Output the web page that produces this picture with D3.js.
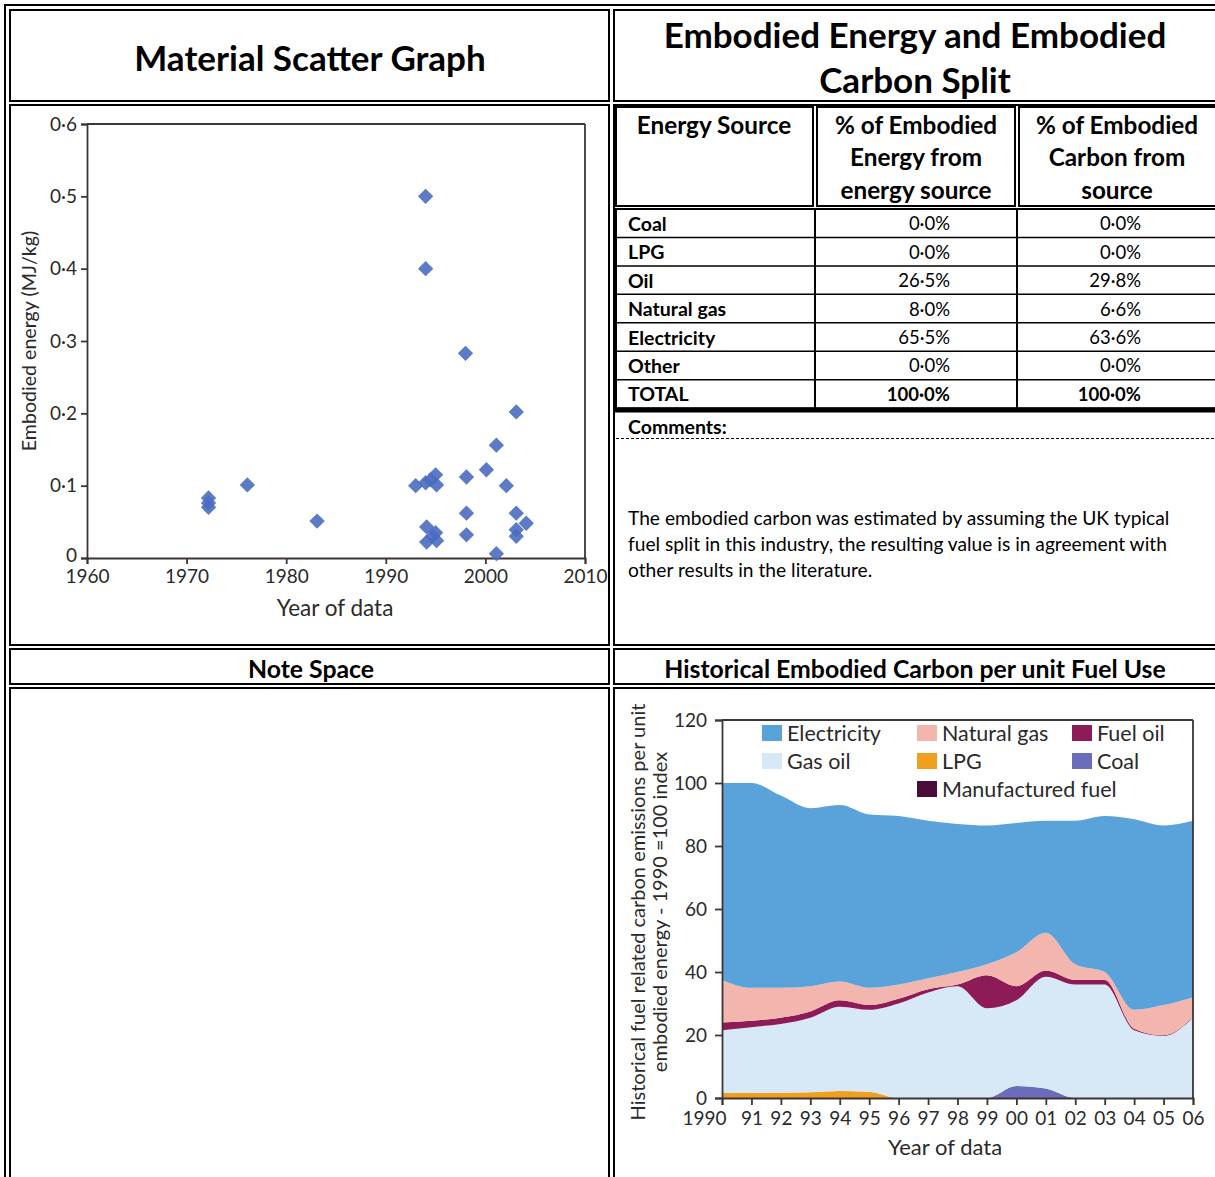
<!DOCTYPE html>
<html>
<head>
<meta charset="utf-8">
<script src="https://cdn.jsdelivr.net/npm/d3@7"></script>
<style>
  html, body { margin: 0; padding: 0; background: #fff; }
  svg { display: block; }
</style>
</head>
<body>
<svg id="page" width="1215" height="1177"></svg>
<script>
// ---------- Material scatter graph: year of data vs embodied energy (MJ/kg)
const dataYears = [1972.2, 1972.2, 1972.2, 1976.1, 1983.1,
  1993.0, 1994.0, 1994.5, 1995.0, 1995.1, 1994.0, 1994.0,
  1994.1, 1995.0, 1994.1, 1995.1, 1994.7,
  1998.0, 1998.1, 1998.1, 1998.1, 2000.1, 2001.1, 2001.1, 2002.1,
  2003.1, 2003.1, 2004.1, 2003.1, 2003.1];
const embodiedEnergy = [0.083, 0.070, 0.076, 0.101, 0.051,
  0.100, 0.104, 0.108, 0.115, 0.101, 0.500, 0.400,
  0.043, 0.035, 0.022, 0.024, 0.030,
  0.283, 0.112, 0.062, 0.032, 0.122, 0.156, 0.006, 0.100,
  0.202, 0.062, 0.048, 0.039, 0.030];
const scatterXTicks = [1960, 1970, 1980, 1990, 2000, 2010];
const scatterYTicks = [0, 0.1, 0.2, 0.3, 0.4, 0.5, 0.6];

// ---------- Embodied energy / carbon split table
const energySources = ["Coal", "LPG", "Oil", "Natural gas", "Electricity", "Other", "TOTAL"];
const energyShare = [0.0, 0.0, 26.5, 8.0, 65.5, 0.0, 100.0];
const carbonShare = [0.0, 0.0, 29.8, 6.6, 63.6, 0.0, 100.0];
const commentLines = [
  "The embodied carbon was estimated by assuming the UK typical",
  "fuel split in this industry, the resulting value is in agreement with",
  "other results in the literature."
];

// ---------- Historical embodied carbon per unit fuel use (1990 = 100 index)
const fuelYears = [1990, 1991, 1992, 1993, 1994, 1995, 1996, 1997, 1998,
  1999, 2000, 2001, 2002, 2003, 2004, 2005, 2006];
const coal = [0, 0, 0, 0, 0, 0, 0, 0, 0, 0, 3.8, 3.0, 0, 0, 0, 0, 0];
const lpg = [1.6, 1.6, 1.7, 1.8, 2.2, 2.0, 0, 0, 0, 0, 0, 0, 0, 0, 0, 0, 0];
const gasOil = [19.9, 20.9, 21.8, 23.7, 26.8, 26.0, 30.0, 33.5, 35.5,
  28.5, 27.2, 35.5, 36.0, 36.0, 21.5, 19.7, 25.5];
const fuelOil = [2.5, 2.0, 2.0, 2.0, 2.0, 1.5, 1.5, 1.0, 0.5,
  10.5, 4.5, 2.0, 1.5, 1.5, 0.5, 0.2, 0.1];
const manufacturedFuel = [0, 0, 0, 0, 0, 0, 0, 0, 0, 0, 0, 0, 0, 0, 0, 0, 0];
const naturalGas = [13.5, 10.5, 9.5, 8.0, 6.0, 5.5, 4.5, 3.5, 4.0,
  3.5, 10.8, 12.0, 5.0, 2.5, 6.0, 9.6, 6.4];
const electricity = [62.5, 65.0, 61.0, 56.5, 56.0, 55.0, 53.5, 50.0, 47.0,
  44.0, 41.0, 35.5, 45.5, 49.5, 60.5, 57.0, 56.0];
const fuelXTickLabels = ["1990", "91", "92", "93", "94", "95", "96", "97", "98",
  "99", "00", "01", "02", "03", "04", "05", "06"];
const fuelYTicks = [0, 20, 40, 60, 80, 100, 120];

// ---------- page
const svg = d3.select("#page");
const TABLE_FONT = "Lato, 'Open Sans', sans-serif";
const CHART_FONT = "Lato, 'Open Sans', sans-serif";
const dotFmt = v => d3.format(".1f")(v).replace(".", "\u00B7");

// cell borders (table with cell spacing gives double rules)
const RIGHT = 1240, BOTTOM = 1200;
function box(x0, y0, x1, y1, w = 2) {
  svg.append("rect")
    .attr("x", x0).attr("y", y0)
    .attr("width", x1 - x0).attr("height", y1 - y0)
    .attr("fill", "none").attr("stroke", "#000").attr("stroke-width", w);
}
function hline(x0, x1, y, w = 1.5, dash = null) {
  const l = svg.append("line").attr("x1", x0).attr("x2", x1).attr("y1", y).attr("y2", y)
    .attr("stroke", "#000").attr("stroke-width", w);
  if (dash) l.attr("stroke-dasharray", dash);
}
function vline(x, y0, y1, w = 1.5) {
  svg.append("line").attr("x1", x).attr("x2", x).attr("y1", y0).attr("y2", y1)
    .attr("stroke", "#000").attr("stroke-width", w);
}

box(5, 5, RIGHT, BOTTOM);            // table outline
box(10, 10, 609, 101);               // title left
box(614, 10, RIGHT, 101);            // title right
box(10, 105, 609, 645);              // scatter cell
box(614, 105, RIGHT, 645);           // split cell
box(10, 649, 609, 684);              // note header
box(614, 649, RIGHT, 684);           // historical header
box(10, 688, 609, BOTTOM);           // note space
box(614, 688, RIGHT, BOTTOM);        // historical chart cell

// headings
function heading(text, x, y, size) {
  svg.append("text").attr("x", x).attr("y", y)
    .attr("text-anchor", "middle").attr("dominant-baseline", "central")
    .attr("font-family", TABLE_FONT).attr("font-weight", 700)
    .attr("font-size", size).attr("fill", "#000").text(text);
}
heading("Material Scatter Graph", 310, 57, 35);
heading("Embodied Energy and Embodied", 915, 34, 35);
heading("Carbon Split", 915, 79, 35);
heading("Note Space", 311, 668, 24.8);
heading("Historical Embodied Carbon per unit Fuel Use", 915, 668, 24.8);

// ---------- split table
box(616, 107, 813, 206); box(817, 107, 1015, 206); box(1019, 107, RIGHT, 206);
const headerLines = [["Energy Source"], ["% of Embodied", "Energy from", "energy source"], ["% of Embodied", "Carbon from", "source"]];
const headerCx = [714, 916, 1117];
headerLines.forEach((lines, i) => {
  lines.forEach((t, j) => heading(t, headerCx[i], 124 + j * 32.5, 24.3));
});
// data rows
const rowTop = 209, rowH = 28.45;
const rowY = d3.scaleLinear().domain([0, energySources.length]).range([rowTop, rowTop + rowH * energySources.length]);
box(616, rowTop, RIGHT, rowY(energySources.length), 2);
d3.range(1, energySources.length).forEach(i => hline(616, RIGHT, rowY(i), 1.5));
vline(815, rowTop, rowY(energySources.length), 2);
vline(1017, rowTop, rowY(energySources.length), 2);
hline(614, RIGHT, rowY(energySources.length) + 2.5, 3.5);

const rows = svg.append("g").attr("font-family", TABLE_FONT).attr("fill", "#000");
energySources.forEach((name, i) => {
  const cy = rowY(i + 0.5);
  rows.append("text").attr("x", 628).attr("y", cy).attr("dominant-baseline", "central")
    .attr("font-size", 19.5).attr("font-weight", 700).text(name);
  const bold = name === "TOTAL" ? 700 : 400;
  rows.append("text").attr("x", 950).attr("y", cy).attr("dominant-baseline", "central")
    .attr("font-size", 18.5).attr("text-anchor", "end").attr("font-weight", bold)
    .text(dotFmt(energyShare[i]) + "%");
  rows.append("text").attr("x", 1141).attr("y", cy).attr("dominant-baseline", "central")
    .attr("font-size", 18.5).attr("text-anchor", "end").attr("font-weight", bold)
    .text(dotFmt(carbonShare[i]) + "%");
});
rows.append("text").attr("x", 628).attr("y", 426).attr("dominant-baseline", "central")
  .attr("font-size", 19.5).attr("font-weight", 700).text("Comments:");
hline(616, RIGHT, 438.5, 1, "3,2");
commentLines.forEach((t, i) => {
  rows.append("text").attr("x", 628).attr("y", 517 + i * 26).attr("dominant-baseline", "central")
    .attr("font-size", 19.2).attr("font-weight", 400).text(t);
});

// ---------- scatter chart
{
  const x = d3.scaleLinear().domain([1960, 2010]).range([87, 585]);
  const y = d3.scaleLinear().domain([0, 0.6]).range([558, 124]);
  const g = svg.append("g").attr("font-family", CHART_FONT);
  const axisColor = "#3d3535";

  g.append("line").attr("x1", x(1960)).attr("x2", x(2010)).attr("y1", y(0.6)).attr("y2", y(0.6))
    .attr("stroke", axisColor).attr("stroke-width", 1.8);
  g.append("line").attr("x1", x(2010)).attr("x2", x(2010)).attr("y1", y(0.6)).attr("y2", y(0))
    .attr("stroke", axisColor).attr("stroke-width", 1.8);

  const ya = g.append("g").attr("transform", `translate(${x(1960)},0)`)
    .call(d3.axisLeft(y).tickValues(scatterYTicks).tickSizeOuter(0).tickSize(6).tickPadding(4)
      .tickFormat(d => d === 0 ? "0" : dotFmt(d)));
  const xa = g.append("g").attr("transform", `translate(0,${y(0)})`)
    .call(d3.axisBottom(x).tickValues(scatterXTicks).tickSizeOuter(0).tickSize(6).tickPadding(6)
      .tickFormat(d3.format("d")));
  [ya, xa].forEach(a => {
    a.selectAll("path,line").attr("stroke", axisColor).attr("stroke-width", 1.8);
    a.selectAll("text").attr("font-size", 19).attr("fill", "#2a2a2a").attr("font-family", CHART_FONT);
  });
  // the zero label sits a little higher so it clears the first year label
  ya.selectAll(".tick text").filter(d => d === 0).attr("y", -3);

  g.append("text").attr("transform", `translate(28,${y(0.3)}) rotate(-90)`)
    .attr("text-anchor", "middle").attr("dominant-baseline", "central")
    .attr("font-size", 19.6).attr("fill", "#2a2a2a").text("Embodied energy (MJ/kg)");
  g.append("text").attr("x", 335).attr("y", 607)
    .attr("text-anchor", "middle").attr("dominant-baseline", "central")
    .attr("font-size", 22.5).attr("fill", "#2a2a2a").text("Year of data");

  const diamond = d3.symbol().type(d3.symbolDiamond2).size(150);
  g.append("g").selectAll("path")
    .data(dataYears.map((yr, i) => [yr, embodiedEnergy[i]]))
    .join("path")
    .attr("transform", d => `translate(${x(d[0])},${y(d[1])})`)
    .attr("d", diamond)
    .attr("fill", "#4a6cc0").attr("fill-opacity", 0.9);
}

// ---------- historical fuel area chart
{
  const x = d3.scaleLinear().domain([1990, 2006]).range([722, 1193]);
  const y = d3.scaleLinear().domain([0, 120]).range([1098, 720]);
  const g = svg.append("g").attr("font-family", CHART_FONT);
  const axisColor = "#3d3535";

  const keys = ["Coal", "LPG", "Gas oil", "Fuel oil", "Manufactured fuel", "Natural gas", "Electricity"];
  const seriesValues = {
    "Coal": coal, "LPG": lpg, "Gas oil": gasOil, "Fuel oil": fuelOil,
    "Manufactured fuel": manufacturedFuel, "Natural gas": naturalGas, "Electricity": electricity
  };
  const colors = {
    "Electricity": "#5aa3da", "Gas oil": "#d7e9f7", "Natural gas": "#f2b6ae",
    "LPG": "#f0a01e", "Manufactured fuel": "#4b0c3c", "Fuel oil": "#8c1b57", "Coal": "#6b6dba"
  };
  const rowsData = fuelYears.map((yr, i) => {
    const o = { year: yr };
    keys.forEach(k => o[k] = seriesValues[k][i]);
    return o;
  });
  const stacked = d3.stack().keys(keys)(rowsData);
  const area = d3.area()
    .x(d => x(d.data.year)).y0(d => y(d[0])).y1(d => y(d[1]))
    .curve(d3.curveMonotoneX);
  g.append("g").selectAll("path").data(stacked).join("path")
    .attr("d", area).attr("fill", d => colors[d.key]);

  g.append("line").attr("x1", x(1990)).attr("x2", x(2006)).attr("y1", y(120)).attr("y2", y(120))
    .attr("stroke", axisColor).attr("stroke-width", 1.8);
  g.append("line").attr("x1", x(2006)).attr("x2", x(2006)).attr("y1", y(120)).attr("y2", y(0))
    .attr("stroke", axisColor).attr("stroke-width", 1.8);

  const ya = g.append("g").attr("transform", `translate(${x(1990)},0)`)
    .call(d3.axisLeft(y).tickValues(fuelYTicks).tickSizeOuter(0).tickSize(7).tickPadding(8));
  const xa = g.append("g").attr("transform", `translate(0,${y(0)})`)
    .call(d3.axisBottom(x).tickValues(fuelYears).tickSizeOuter(0).tickSize(7).tickPadding(7)
      .tickFormat((d, i) => fuelXTickLabels[i]));
  [ya, xa].forEach(a => {
    a.selectAll("path,line").attr("stroke", axisColor).attr("stroke-width", 1.8);
    a.selectAll("text").attr("font-size", 19).attr("fill", "#2a2a2a").attr("font-family", CHART_FONT);
  });
  // the first year label sits to the left of its tick
  xa.selectAll(".tick text").filter(d => d === 1990).attr("text-anchor", "end").attr("x", 4);

  g.append("text").attr("x", 945).attr("y", 1146)
    .attr("text-anchor", "middle").attr("dominant-baseline", "central")
    .attr("font-size", 22).attr("fill", "#2a2a2a").text("Year of data");
  const yl = g.append("text").attr("transform", `translate(650,912) rotate(-90)`)
    .attr("text-anchor", "middle").attr("font-size", 20).attr("fill", "#2a2a2a");
  yl.append("tspan").attr("x", 0).attr("dy", "-0.25em").text("Historical fuel related carbon emissions per unit");
  yl.append("tspan").attr("x", 0).attr("dy", "1.1em").text("embodied energy - 1990 =100 index");

  // legend
  const legendItems = [
    ["Electricity", 762, 733], ["Gas oil", 762, 761],
    ["Natural gas", 917, 733], ["LPG", 917, 761], ["Manufactured fuel", 917, 789],
    ["Fuel oil", 1072, 733], ["Coal", 1072, 761]
  ];
  const lg = g.append("g");
  legendItems.forEach(([k, lx, ly]) => {
    lg.append("rect").attr("x", lx).attr("y", ly - 8).attr("width", 20).attr("height", 16)
      .attr("fill", colors[k]);
    lg.append("text").attr("x", lx + 25).attr("y", ly).attr("dominant-baseline", "central")
      .attr("font-size", 21.5).attr("fill", "#2a2a2a").text(k);
  });
}
</script>
</body>
</html>
